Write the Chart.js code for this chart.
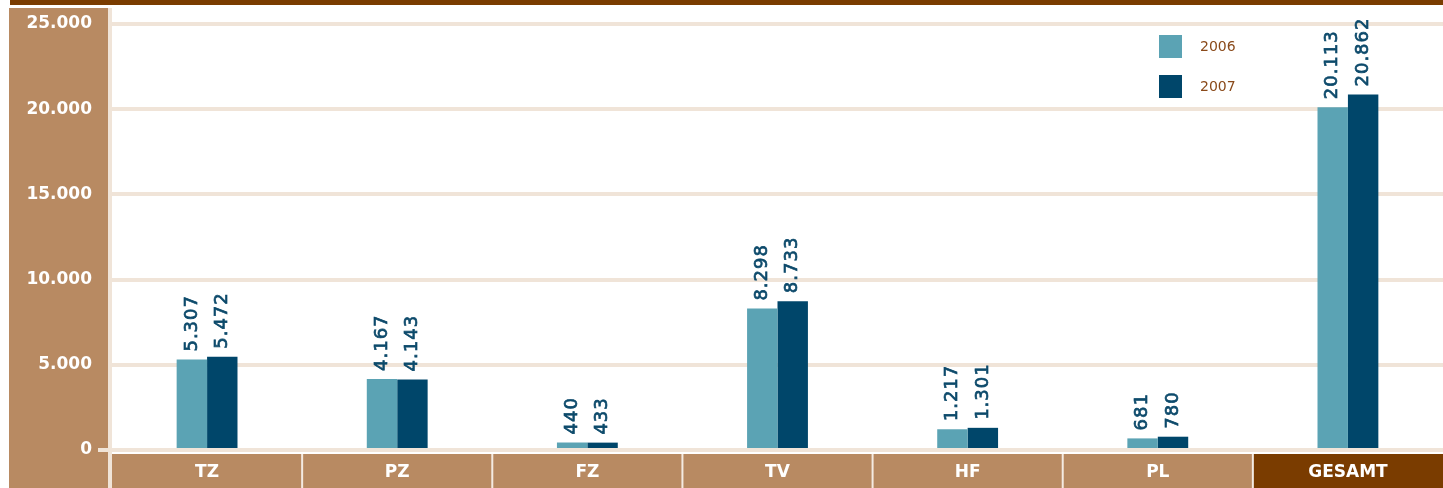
<!DOCTYPE html>
<html>
<head>
<meta charset="utf-8">
<script src="https://cdn.jsdelivr.net/npm/chart.js@4"></script>
<style>
  html, body { margin: 0; padding: 0; background: #fff; }
  #wrap { width: 1443px; height: 488px; }
</style>
</head>
<body>
<div id="wrap"><canvas id="chart" width="1443" height="488"></canvas></div>
<script>
const categories = ["TZ", "PZ", "FZ", "TV", "HF", "PL", "GESAMT"];
const values2006 = [5307, 4167, 440, 8298, 1217, 681, 20113];
const values2007 = [5472, 4143, 433, 8733, 1301, 780, 20862];
const yTicks = [0, 5000, 10000, 15000, 20000, 25000];

const fmt = (v) => v.toLocaleString("de-DE");
const FONT = "'DejaVu Sans', Verdana, sans-serif";

// backgrounds: top bar, left panel, category band
const backdrop = {
  id: "backdrop",
  beforeDraw(chart) {
    const ctx = chart.ctx;
    const area = chart.chartArea;
    const h = chart.height;
    ctx.save();
    ctx.fillStyle = "#7a3c00";
    ctx.fillRect(10, 0, chart.width - 10, 5);
    ctx.fillStyle = "#b88a62";
    ctx.fillRect(9, 8, area.left - 13, h - 8);
    ctx.fillStyle = "#f0e4d8";
    ctx.fillRect(area.left - 4, 8, 4, h - 8);
    // zero tick
    ctx.fillRect(area.left - 14, area.bottom - 2, 12, 4);
    // category band
    const x = chart.scales.x;
    const bandTop = area.bottom + 4;
    categories.forEach((c, i) => {
      const l = x.getPixelForValue(i) - x.width / categories.length / 2;
      const r = l + x.width / categories.length;
      ctx.fillStyle = i === categories.length - 1 ? "#7a3c00" : "#b88a62";
      ctx.fillRect(l, bandTop, r - l, h - bandTop);
      if (i > 0) {
        ctx.fillStyle = "#f4ebe2";
        ctx.fillRect(l - 1, bandTop, 2, h - bandTop);
      }
    });
    ctx.restore();
  }
};

// rotated value labels above bars + legend
const barLabels = {
  id: "barLabels",
  afterDatasetsDraw(chart) {
    const ctx = chart.ctx;
    ctx.save();
    ctx.font = "18px " + FONT;
    ctx.letterSpacing = "1px";
    ctx.fillStyle = "#0d4a6b";
    ctx.strokeStyle = "#0d4a6b";
    ctx.lineWidth = 0.7;
    ctx.textAlign = "left";
    ctx.textBaseline = "middle";
    chart.data.datasets.forEach((ds, di) => {
      chart.getDatasetMeta(di).data.forEach((bar, i) => {
        ctx.save();
        ctx.translate(bar.x, bar.y - 8);
        ctx.rotate(-Math.PI / 2);
        ctx.fillText(fmt(ds.data[i]), 0, 0);
        ctx.strokeText(fmt(ds.data[i]), 0, 0);
        ctx.restore();
      });
    });

    // legend
    ctx.letterSpacing = "0px";
    ctx.font = "14px " + FONT;
    chart.data.datasets.forEach((ds, di) => {
      const y = 35 + di * 40;
      ctx.fillStyle = ds.backgroundColor;
      ctx.fillRect(1159, y, 23, 23);
      ctx.fillStyle = "#8a4a1a";
      ctx.fillText(ds.label, 1200, y + 12);
    });
    ctx.restore();
  }
};

new Chart(document.getElementById("chart"), {
  type: "bar",
  data: {
    labels: categories,
    datasets: [
      { label: "2006", data: values2006, backgroundColor: "#5ba3b4" },
      { label: "2007", data: values2007, backgroundColor: "#00466a" }
    ]
  },
  options: {
    responsive: false,
    animation: false,
    layout: { padding: { top: 24, right: 0, left: 0, bottom: 0 } },
    datasets: { bar: { categoryPercentage: 0.32, barPercentage: 1 } },
    plugins: {
      legend: { display: false },
      tooltip: { enabled: false }
    },
    scales: {
      x: {
        grid: { display: false, drawTicks: false },
        border: { display: false },
        ticks: {
          color: "#ffffff",
          font: { family: FONT, size: 17, weight: "bold" },
          padding: 12
        },
        afterFit: (s) => { s.height = 38; }
      },
      y: {
        min: 0,
        max: 25000,
        afterBuildTicks: (s) => { s.ticks = yTicks.map((v) => ({ value: v })); },
        grid: { color: "#f0e4d8", lineWidth: 4, drawTicks: false },
        border: { display: false },
        ticks: {
          color: "#ffffff",
          font: { family: FONT, size: 17, weight: "bold" },
          padding: 20,
          callback: (v) => fmt(v)
        },
        afterFit: (s) => {
          s.width = 112;
          s.paddingTop = 0;
          s.paddingBottom = 0;
        }
      }
    }
  },
  plugins: [backdrop, barLabels]
});
</script>
</body>
</html>
